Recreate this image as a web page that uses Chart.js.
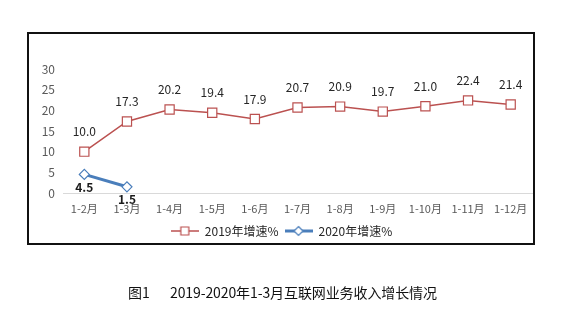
<!DOCTYPE html>
<html>
<head>
<meta charset="utf-8">
<script src="https://cdn.jsdelivr.net/npm/chart.js@4.4.1/dist/chart.umd.min.js"></script>
<style>
  html, body { margin: 0; padding: 0; background: #fff; }
  #wrap { position: relative; width: 569px; height: 330px; }
  #chart { position: absolute; left: 0; top: 0; }
  #frame {
    position: absolute; left: 27px; top: 32px; width: 504px; height: 209px;
    border: 2px solid #111; pointer-events: none;
  }
  .caption {
    position: absolute; top: 282px; font-size: 14px; color: #111;
    font-family: "Noto Sans CJK SC", sans-serif; white-space: pre; line-height: 20px;
  }
</style>
</head>
<body>
<div id="wrap">
  <canvas id="chart" width="569" height="330"></canvas>
  <div id="frame"></div>
  <div class="caption" style="left:128px">图1</div>
  <div class="caption" style="left:170px; letter-spacing:-0.1px">2019-2020年1-3月互联网业务收入增长情况</div>
</div>
<script>
// 月份标签与两年的增速数据
const months = ['1-2月', '1-3月', '1-4月', '1-5月', '1-6月', '1-7月', '1-8月', '1-9月', '1-10月', '1-11月', '1-12月'];
const growth2019 = [10.0, 17.3, 20.2, 19.4, 17.9, 20.7, 20.9, 19.7, 21.0, 22.4, 21.4];
const growth2020 = [4.5, 1.5];
const seriesNames = ['2019年增速%', '2020年增速%'];

const red = '#bb5150';
const blue = '#4a7ebb';
const fontFamily = '"Noto Sans CJK SC", "Liberation Sans", sans-serif';

// 图例里的小图标：一段线加中间的标记
const makeLegendIcon = (color, lineWidth, shape) => {
    const c = document.createElement('canvas');
    c.width = 28;
    c.height = 12;
    const ctx = c.getContext('2d');
    ctx.strokeStyle = color;
    ctx.lineWidth = lineWidth;
    ctx.beginPath();
    ctx.moveTo(0, 6);
    ctx.lineTo(28, 6);
    ctx.stroke();
    ctx.fillStyle = '#fff';
    ctx.lineWidth = 1.2;
    ctx.beginPath();
    if (shape === 'rect') {
        ctx.rect(10, 2, 8, 8);
    } else {
        ctx.moveTo(14, 1.5);
        ctx.lineTo(18.5, 6);
        ctx.lineTo(14, 10.5);
        ctx.lineTo(9.5, 6);
        ctx.closePath();
    }
    ctx.fill();
    ctx.stroke();
    return c;
};

// 数据标签：2019 在点上方，2020 在点下方加粗
const valueLabels = {
    id: 'valueLabels',
    afterDatasetsDraw(chart) {
        const ctx = chart.ctx;
        ctx.save();
        ctx.textAlign = 'center';
        ctx.textBaseline = 'middle';
        chart.data.datasets.forEach((ds, i) => {
            const meta = chart.getDatasetMeta(i);
            meta.data.forEach((pt, j) => {
                const v = ds.data[j];
                if (i === 0) {
                    ctx.font = '12px ' + fontFamily;
                    ctx.fillStyle = '#262626';
                    ctx.fillText(v.toFixed(1), pt.x, pt.y - 20);
                } else {
                    ctx.font = 'bold 12px ' + fontFamily;
                    ctx.fillStyle = '#1a1a1a';
                    ctx.fillText(v.toFixed(1), pt.x, pt.y + 13);
                }
            });
        });
        ctx.restore();
    }
};

const icons = [makeLegendIcon(red, 1.5, 'rect'), makeLegendIcon(blue, 3, 'diamond')];

new Chart(document.getElementById('chart'), {
    type: 'line',
    data: {
        labels: months,
        datasets: [
            {
                label: seriesNames[0],
                data: growth2019,
                borderColor: red,
                borderWidth: 1.5,
                pointStyle: 'rect',
                pointRadius: 6.5,
                pointBorderWidth: 1.2,
                pointBackgroundColor: '#fff',
                pointBorderColor: red,
                tension: 0
            },
            {
                label: seriesNames[1],
                data: growth2020,
                borderColor: blue,
                borderWidth: 3,
                pointStyle: 'rectRot',
                pointRadius: 5,
                pointBorderWidth: 1.2,
                pointBackgroundColor: '#fff',
                pointBorderColor: blue,
                tension: 0
            }
        ]
    },
    options: {
        responsive: false,
        animation: false,
        layout: { padding: { left: 31, right: 37, top: 69, bottom: 83 } },
        scales: {
            x: {
                offset: true,
                grid: { display: false, drawTicks: false },
                border: { color: '#d9d9d9', width: 1 },
                ticks: {
                    padding: 9,
                    color: '#595959',
                    font: { family: fontFamily, size: 11 },
                    maxRotation: 0,
                    autoSkip: false
                },
                afterFit: (scale) => { scale.height = 26; }
            },
            y: {
                min: 0,
                max: 30,
                grid: { display: false, drawTicks: false },
                border: { display: false },
                ticks: {
                    stepSize: 5,
                    padding: 8,
                    color: '#595959',
                    font: { family: fontFamily, size: 12 }
                },
                afterFit: (scale) => { scale.width = 32; }
            }
        },
        plugins: {
            legend: {
                position: 'bottom',
                labels: {
                    usePointStyle: true,
                    pointStyleWidth: 28,
                    padding: 6,
                    color: '#262626',
                    font: { family: fontFamily, size: 12 },
                    generateLabels: (chart) => chart.data.datasets.map((ds, i) => ({
                        text: ds.label,
                        pointStyle: icons[i],
                        datasetIndex: i,
                        fontColor: '#262626',
                        lineWidth: 0,
                        strokeStyle: 'transparent',
                        fillStyle: 'transparent'
                    }))
                }
            },
            tooltip: { enabled: false }
        }
    },
    plugins: [valueLabels]
});
</script>
</body>
</html>
